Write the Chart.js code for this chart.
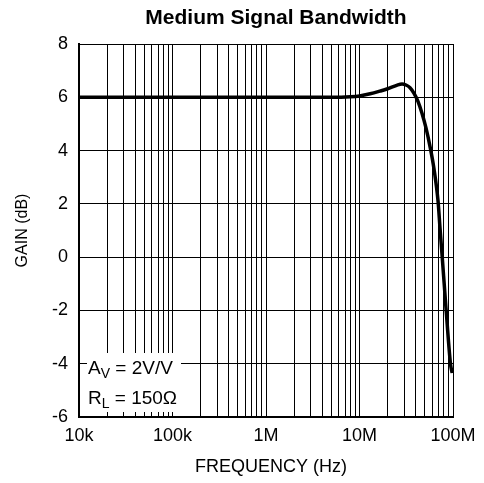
<!DOCTYPE html>
<html>
<head>
<meta charset="utf-8">
<script src="https://cdn.jsdelivr.net/npm/chart.js@4.4.1/dist/chart.umd.min.js"></script>
<style>
  body { margin: 0; background: #fff; }
  #wrap { width: 484px; height: 483px; }
</style>
</head>
<body>
<div id="wrap"><canvas id="bwChart" width="484" height="483"></canvas></div>
<script>
// ---- data ----
const freqHz = [1e4, 1e5, 1e6, 5e6, 8e6, 1e7, 1.3e7, 1.65e7, 2e7, 2.5e7, 2.85e7, 3.14e7, 3.47e7, 3.83e7,
                4.22e7, 4.66e7, 5.14e7, 5.68e7, 6.27e7, 6.92e7, 7.26e7, 7.63e7, 8.41e7, 9.4e7, 9.8e7];
const gainDb = [6, 6, 6, 6, 6.02, 6.05, 6.13, 6.23, 6.32, 6.45, 6.5, 6.46, 6.36, 6.15,
                5.85, 5.4, 4.85, 4.15, 3.3, 2.1, 1.1, 0.1, -1.9, -4.0, -4.35];

const xMajorTicks = [1e4, 1e5, 1e6, 1e7, 1e8];
const xMajorLabels = ['10k', '100k', '1M', '10M', '100M'];
const yTicks = [-6, -4, -2, 0, 2, 4, 6, 8];

const FONT = 'Liberation Sans, Arial, Helvetica, sans-serif';

// gridline positions: 1..9 x each decade
function logGridValues() {
    const vals = [];
    for (let e = 4; e < 8; e++) {
        for (let m = 1; m < 10; m++) vals.push(m * Math.pow(10, e));
    }
    vals.push(1e8);
    return vals;
}

// titles + conditions box
const textPlugin = {
    id: 'textPlugin',
    beforeDatasetsDraw(chart) {
        const ctx = chart.ctx;
        const a = chart.chartArea;
        ctx.save();
        // white box behind conditions text
        ctx.fillStyle = '#fff';
        ctx.fillRect(a.left + 8, a.bottom - 64, 94, 59);
        ctx.fillStyle = '#000';
        ctx.textBaseline = 'alphabetic';
        ctx.textAlign = 'left';
        let x = a.left + 9;
        let y = a.bottom - 43;
        ctx.font = '19px ' + FONT;
        ctx.fillText('A', x, y);
        x += ctx.measureText('A').width;
        ctx.font = '14px ' + FONT;
        ctx.fillText('V', x, y + 4);
        x += ctx.measureText('V').width;
        ctx.font = '19px ' + FONT;
        ctx.fillText(' = 2V/V', x, y);

        x = a.left + 9;
        y = a.bottom - 13;
        ctx.fillText('R', x, y);
        x += ctx.measureText('R').width;
        ctx.font = '14px ' + FONT;
        ctx.fillText('L', x, y + 4);
        x += ctx.measureText('L').width;
        ctx.font = '19px ' + FONT;
        ctx.fillText(' = 150\u03A9', x, y);
        ctx.restore();
    },
    afterDraw(chart) {
        const ctx = chart.ctx;
        const a = chart.chartArea;
        ctx.save();
        ctx.fillStyle = '#000';
        ctx.textAlign = 'center';
        ctx.textBaseline = 'middle';
        ctx.font = 'bold 21px ' + FONT;
        ctx.fillText('Medium Signal Bandwidth', (a.left + a.right) / 2 + 10, 18);
        ctx.font = '18px ' + FONT;
        ctx.fillText('FREQUENCY (Hz)', (a.left + a.right) / 2 + 5, 467);
        ctx.translate(23, (a.top + a.bottom) / 2);
        ctx.rotate(-Math.PI / 2);
        ctx.font = '16px ' + FONT;
        ctx.fillText('GAIN (dB)', 0, 0);
        ctx.restore();
    }
};

const points = freqHz.map((f, i) => ({ x: f, y: gainDb[i] }));

new Chart(document.getElementById('bwChart'), {
    type: 'line',
    data: {
        datasets: [{
            data: points,
            borderColor: '#000',
            borderWidth: 3.5,
            pointRadius: 0,
            fill: false,
            cubicInterpolationMode: 'monotone'
        }]
    },
    options: {
        responsive: false,
        animation: false,
        layout: { padding: { top: 44, right: 31, left: 0, bottom: 0 } },
        plugins: {
            legend: { display: false },
            tooltip: { enabled: false }
        },
        scales: {
            x: {
                type: 'logarithmic',
                min: 1e4,
                max: 1e8,
                afterFit(scale) { scale.height = 66; },
                afterBuildTicks(scale) {
                    scale.ticks = logGridValues().map(v => ({ value: v }));
                },
                grid: { color: '#000', lineWidth: 1, drawTicks: false },
                border: { color: '#000', width: 2 },
                ticks: {
                    color: '#000',
                    font: { family: FONT, size: 18 },
                    padding: 8,
                    maxRotation: 0,
                    autoSkip: false,
                    callback(value) {
                        const i = xMajorTicks.indexOf(value);
                        return i >= 0 ? xMajorLabels[i] : '';
                    }
                }
            },
            y: {
                min: -6,
                max: 8,
                afterFit(scale) { scale.width = 79; },
                afterBuildTicks(scale) {
                    scale.ticks = yTicks.map(v => ({ value: v }));
                },
                grid: { color: '#000', lineWidth: 1, drawTicks: false },
                border: { color: '#000', width: 2 },
                ticks: {
                    color: '#000',
                    font: { family: FONT, size: 18 },
                    padding: 11
                }
            }
        }
    },
    plugins: [textPlugin]
});
</script>
</body>
</html>
